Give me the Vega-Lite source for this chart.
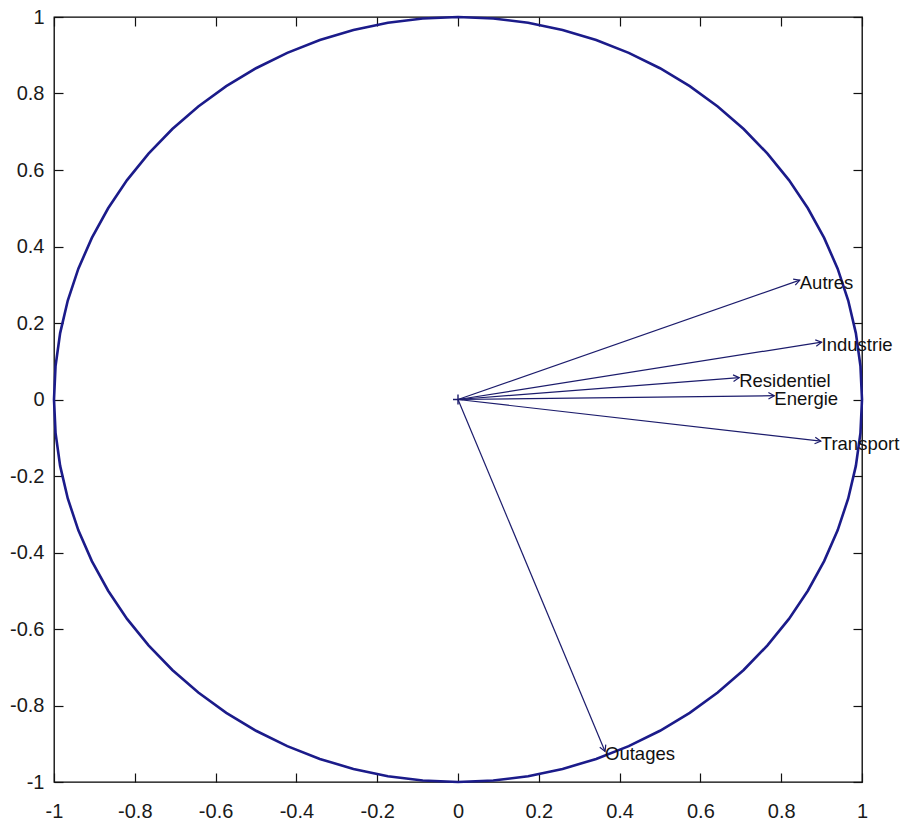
{
  "$schema": "https://vega.github.io/schema/vega-lite/v6.json",
  "width": 808,
  "height": 765,
  "autosize": {"type": "none"},
  "padding": {"left": 54, "top": 17, "right": 45, "bottom": 41},
  "background": "white",
  "config": {
    "view": {"stroke": "#000", "strokeWidth": 1.3},
    "axis": {
      "domain": false,
      "grid": false,
      "title": null,
      "ticks": true,
      "tickSize": -9,
      "tickColor": "#111",
      "tickWidth": 1.2,
      "labelFlush": false,
      "labelFont": "Liberation Sans",
      "labelFontSize": 20,
      "labelColor": "#1a1a1a"
    }
  },
  "datasets": {
    "circle": [
      {"i": 0, "x": 1, "y": 0}, {"i": 1, "x": 0.9962, "y": 0.0872}, {"i": 2, "x": 0.9848, "y": 0.1736},
      {"i": 3, "x": 0.9659, "y": 0.2588}, {"i": 4, "x": 0.9397, "y": 0.342}, {"i": 5, "x": 0.9063, "y": 0.4226},
      {"i": 6, "x": 0.866, "y": 0.5}, {"i": 7, "x": 0.8192, "y": 0.5736}, {"i": 8, "x": 0.766, "y": 0.6428},
      {"i": 9, "x": 0.7071, "y": 0.7071}, {"i": 10, "x": 0.6428, "y": 0.766}, {"i": 11, "x": 0.5736, "y": 0.8192},
      {"i": 12, "x": 0.5, "y": 0.866}, {"i": 13, "x": 0.4226, "y": 0.9063}, {"i": 14, "x": 0.342, "y": 0.9397},
      {"i": 15, "x": 0.2588, "y": 0.9659}, {"i": 16, "x": 0.1736, "y": 0.9848}, {"i": 17, "x": 0.0872, "y": 0.9962},
      {"i": 18, "x": 0, "y": 1}, {"i": 19, "x": -0.0872, "y": 0.9962}, {"i": 20, "x": -0.1736, "y": 0.9848},
      {"i": 21, "x": -0.2588, "y": 0.9659}, {"i": 22, "x": -0.342, "y": 0.9397}, {"i": 23, "x": -0.4226, "y": 0.9063},
      {"i": 24, "x": -0.5, "y": 0.866}, {"i": 25, "x": -0.5736, "y": 0.8192}, {"i": 26, "x": -0.6428, "y": 0.766},
      {"i": 27, "x": -0.7071, "y": 0.7071}, {"i": 28, "x": -0.766, "y": 0.6428}, {"i": 29, "x": -0.8192, "y": 0.5736},
      {"i": 30, "x": -0.866, "y": 0.5}, {"i": 31, "x": -0.9063, "y": 0.4226}, {"i": 32, "x": -0.9397, "y": 0.342},
      {"i": 33, "x": -0.9659, "y": 0.2588}, {"i": 34, "x": -0.9848, "y": 0.1736}, {"i": 35, "x": -0.9962, "y": 0.0872},
      {"i": 36, "x": -1, "y": 0}, {"i": 37, "x": -0.9962, "y": -0.0872}, {"i": 38, "x": -0.9848, "y": -0.1736},
      {"i": 39, "x": -0.9659, "y": -0.2588}, {"i": 40, "x": -0.9397, "y": -0.342}, {"i": 41, "x": -0.9063, "y": -0.4226},
      {"i": 42, "x": -0.866, "y": -0.5}, {"i": 43, "x": -0.8192, "y": -0.5736}, {"i": 44, "x": -0.766, "y": -0.6428},
      {"i": 45, "x": -0.7071, "y": -0.7071}, {"i": 46, "x": -0.6428, "y": -0.766}, {"i": 47, "x": -0.5736, "y": -0.8192},
      {"i": 48, "x": -0.5, "y": -0.866}, {"i": 49, "x": -0.4226, "y": -0.9063}, {"i": 50, "x": -0.342, "y": -0.9397},
      {"i": 51, "x": -0.2588, "y": -0.9659}, {"i": 52, "x": -0.1736, "y": -0.9848}, {"i": 53, "x": -0.0872, "y": -0.9962},
      {"i": 54, "x": 0, "y": -1}, {"i": 55, "x": 0.0872, "y": -0.9962}, {"i": 56, "x": 0.1736, "y": -0.9848},
      {"i": 57, "x": 0.2588, "y": -0.9659}, {"i": 58, "x": 0.342, "y": -0.9397}, {"i": 59, "x": 0.4226, "y": -0.9063},
      {"i": 60, "x": 0.5, "y": -0.866}, {"i": 61, "x": 0.5736, "y": -0.8192}, {"i": 62, "x": 0.6428, "y": -0.766},
      {"i": 63, "x": 0.7071, "y": -0.7071}, {"i": 64, "x": 0.766, "y": -0.6428}, {"i": 65, "x": 0.8192, "y": -0.5736},
      {"i": 66, "x": 0.866, "y": -0.5}, {"i": 67, "x": 0.9063, "y": -0.4226}, {"i": 68, "x": 0.9397, "y": -0.342},
      {"i": 69, "x": 0.9659, "y": -0.2588}, {"i": 70, "x": 0.9848, "y": -0.1736}, {"i": 71, "x": 0.9962, "y": -0.0872},
      {"i": 72, "x": 1, "y": 0}
    ],
    "vars": [
      {"name": "Autres", "x0": 0, "y0": 0, "x": 0.846, "y": 0.312},
      {"name": "Industrie", "x0": 0, "y0": 0, "x": 0.9, "y": 0.15},
      {"name": "Residentiel", "x0": 0, "y0": 0, "x": 0.696, "y": 0.057},
      {"name": "Energie", "x0": 0, "y0": 0, "x": 0.783, "y": 0.01},
      {"name": "Transport", "x0": 0, "y0": 0, "x": 0.898, "y": -0.109},
      {"name": "Outages", "x0": 0, "y0": 0, "x": 0.364, "y": -0.92}
    ],
    "origin": [{"x": 0, "y": 0}]
  },
  "layer": [
    {
      "data": {"name": "circle"},
      "mark": {"type": "line", "color": "#1b1b8a", "strokeWidth": 2.6},
      "encoding": {
        "x": {
          "field": "x", "type": "quantitative",
          "scale": {"domain": [-1, 1], "nice": false, "zero": false},
          "axis": {"orient": "bottom", "labelPadding": 28, "values": [-1, -0.8, -0.6, -0.4, -0.2, 0, 0.2, 0.4, 0.6, 0.8, 1], "labelExpr": "replace(format(datum.value, '.1~f'), '\u2212', '-')"}
        },
        "y": {
          "field": "y", "type": "quantitative",
          "scale": {"domain": [-1, 1], "nice": false, "zero": false},
          "axis": {"orient": "left", "labelPadding": 19, "values": [-1, -0.8, -0.6, -0.4, -0.2, 0, 0.2, 0.4, 0.6, 0.8, 1], "labelExpr": "replace(format(datum.value, '.1~f'), '\u2212', '-')"}
        },
        "order": {"field": "i", "type": "quantitative"}
      }
    },
    {
      "data": {"name": "vars"},
      "mark": {"type": "rule", "color": "#1c1c6c", "strokeWidth": 1.2},
      "encoding": {
        "x": {"field": "x0", "type": "quantitative", "axis": null},
        "x2": {"field": "x"},
        "y": {"field": "y0", "type": "quantitative", "axis": null},
        "y2": {"field": "y"}
      }
    },
    {
      "data": {"name": "vars"},
      "transform": [
        {"calculate": "atan2(-datum.y * height, datum.x * width) * 180 / PI", "as": "heading"}
      ],
      "mark": {"type": "point", "shape": "M -1 -0.55 L 0 0 L -1 0.55", "filled": false, "color": "#1c1c6c", "strokeWidth": 1.2, "size": 140, "opacity": 1},
      "encoding": {
        "x": {"field": "x", "type": "quantitative", "axis": null},
        "y": {"field": "y", "type": "quantitative", "axis": null},
        "angle": {"field": "heading", "type": "quantitative", "scale": null}
      }
    },
    {
      "data": {"name": "origin"},
      "mark": {"type": "point", "shape": "M -1 0 L 1 0 M 0 -1 L 0 1", "filled": false, "color": "#1c1c6c", "strokeWidth": 1.4, "size": 100, "opacity": 1},
      "encoding": {
        "x": {"field": "x", "type": "quantitative", "axis": null},
        "y": {"field": "y", "type": "quantitative", "axis": null}
      }
    },
    {
      "data": {"name": "vars"},
      "mark": {"type": "text", "align": "left", "baseline": "middle", "dy": 3, "font": "Liberation Sans", "fontSize": 18.5, "color": "#111"},
      "encoding": {
        "x": {"field": "x", "type": "quantitative", "axis": {"orient": "top", "labels": false, "values": [-1, -0.8, -0.6, -0.4, -0.2, 0, 0.2, 0.4, 0.6, 0.8, 1]}},
        "y": {"field": "y", "type": "quantitative", "axis": {"orient": "right", "labels": false, "values": [-1, -0.8, -0.6, -0.4, -0.2, 0, 0.2, 0.4, 0.6, 0.8, 1]}},
        "text": {"field": "name"}
      }
    }
  ],
  "resolve": {"axis": {"x": "independent", "y": "independent"}}
}
